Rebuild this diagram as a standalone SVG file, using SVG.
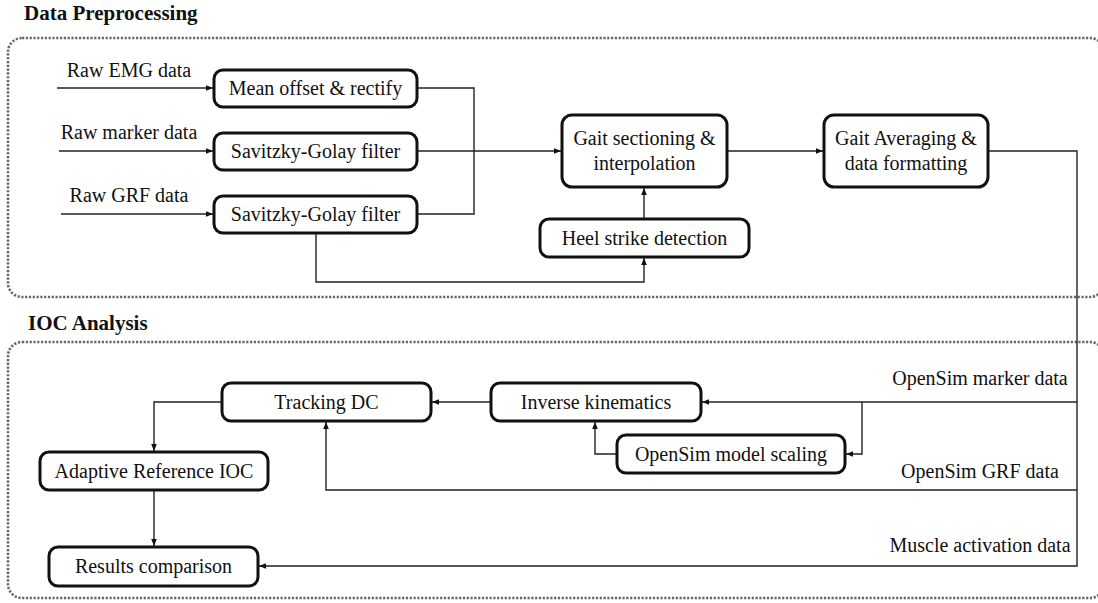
<svg xmlns="http://www.w3.org/2000/svg" width="1098" height="603" viewBox="0 0 1098 603">
<defs>
<marker id="ah" viewBox="0 0 8 8" refX="8" refY="4" markerWidth="7" markerHeight="7" markerUnits="userSpaceOnUse" orient="auto">
<path d="M0,0.8 L8,4 L0,7.2 Z" fill="#111"/>
</marker>
</defs>
<style>
text { font-family: "Liberation Serif", "Times New Roman", serif; font-size: 20px; fill: #111; }
.title { font-weight: bold; font-size: 21px; }
.lbl { text-anchor: middle; }
.box { fill: #fff; stroke: #111; stroke-width: 3; }
.cont { fill: none; stroke: #666; stroke-width: 2.6; stroke-dasharray: 2.2 1.6; }
.conn { fill: none; stroke: #222; stroke-width: 1.4; }
</style>
<rect width="1098" height="603" fill="#fff"/>

<g id="group-preprocessing">
<text class="title" x="24" y="20">Data Preprocessing</text>
<rect class="cont" x="8" y="38" width="1096" height="259" rx="14"/>
</g>
<g id="group-ioc">
<text class="title" x="28" y="330">IOC Analysis</text>
<rect class="cont" x="8" y="342" width="1096" height="256" rx="14"/>
</g>

<g id="connectors">
<path class="conn" d="M57,88 H213" marker-end="url(#ah)"/>
<path class="conn" d="M59,151 H213" marker-end="url(#ah)"/>
<path class="conn" d="M61,214 H213" marker-end="url(#ah)"/>
<path class="conn" d="M417,88 H474 V214 H417"/>
<path class="conn" d="M417,151 H561" marker-end="url(#ah)"/>
<path class="conn" d="M316,233 V282 H644 V258" marker-end="url(#ah)"/>
<path class="conn" d="M644,219 V188" marker-end="url(#ah)"/>
<path class="conn" d="M727,151 H823" marker-end="url(#ah)"/>
<path class="conn" d="M988,151 H1077 V566 H259" marker-end="url(#ah)"/>
<path class="conn" d="M1077,402 H702" marker-end="url(#ah)"/>
<path class="conn" d="M862,402 V454 H846" marker-end="url(#ah)"/>
<path class="conn" d="M617,454 H595 V422" marker-end="url(#ah)"/>
<path class="conn" d="M491,402 H432" marker-end="url(#ah)"/>
<path class="conn" d="M1077,490 H326 V422" marker-end="url(#ah)"/>
<path class="conn" d="M222,402 H154 V451" marker-end="url(#ah)"/>
<path class="conn" d="M154,490 V546" marker-end="url(#ah)"/>
<text class="lbl" x="129" y="77">Raw EMG data</text>
<text class="lbl" x="129" y="139">Raw marker data</text>
<text class="lbl" x="129" y="202">Raw GRF data</text>
<text class="lbl" x="980" y="385">OpenSim marker data</text>
<text class="lbl" x="980" y="478">OpenSim GRF data</text>
<text class="lbl" x="980" y="552">Muscle activation data</text>
</g>

<g id="node-mean-offset">
<rect class="box" x="214" y="70" width="203" height="37" rx="9"/>
<text class="lbl" x="315.5" y="95">Mean offset &amp; rectify</text>
</g>
<g id="node-sg-marker">
<rect class="box" x="214" y="133" width="203" height="37" rx="9"/>
<text class="lbl" x="315.5" y="158">Savitzky-Golay filter</text>
</g>
<g id="node-sg-grf">
<rect class="box" x="214" y="196" width="203" height="37" rx="9"/>
<text class="lbl" x="315.5" y="221">Savitzky-Golay filter</text>
</g>
<g id="node-gait-sectioning">
<rect class="box" x="562" y="115" width="165" height="72" rx="10"/>
<text class="lbl" x="644.5" y="145">Gait sectioning &amp;</text>
<text class="lbl" x="644.5" y="170">interpolation</text>
</g>
<g id="node-gait-averaging">
<rect class="box" x="824" y="115" width="164" height="72" rx="10"/>
<text class="lbl" x="906" y="145">Gait Averaging &amp;</text>
<text class="lbl" x="906" y="170">data formatting</text>
</g>
<g id="node-heel-strike">
<rect class="box" x="540" y="219" width="209" height="38" rx="9"/>
<text class="lbl" x="644.5" y="245">Heel strike detection</text>
</g>
<g id="node-tracking-dc">
<rect class="box" x="222" y="383" width="209" height="38" rx="9"/>
<text class="lbl" x="326.5" y="409">Tracking DC</text>
</g>
<g id="node-inverse-kinematics">
<rect class="box" x="491" y="383" width="210" height="38" rx="9"/>
<text class="lbl" x="596" y="409">Inverse kinematics</text>
</g>
<g id="node-model-scaling">
<rect class="box" x="617" y="435" width="228" height="38" rx="9"/>
<text class="lbl" x="731" y="461">OpenSim model scaling</text>
</g>
<g id="node-adaptive-ioc">
<rect class="box" x="40" y="452" width="228" height="38" rx="9"/>
<text class="lbl" x="154" y="478">Adaptive Reference IOC</text>
</g>
<g id="node-results">
<rect class="box" x="49" y="547" width="209" height="39" rx="9"/>
<text class="lbl" x="153.5" y="573">Results comparison</text>
</g>
</svg>
